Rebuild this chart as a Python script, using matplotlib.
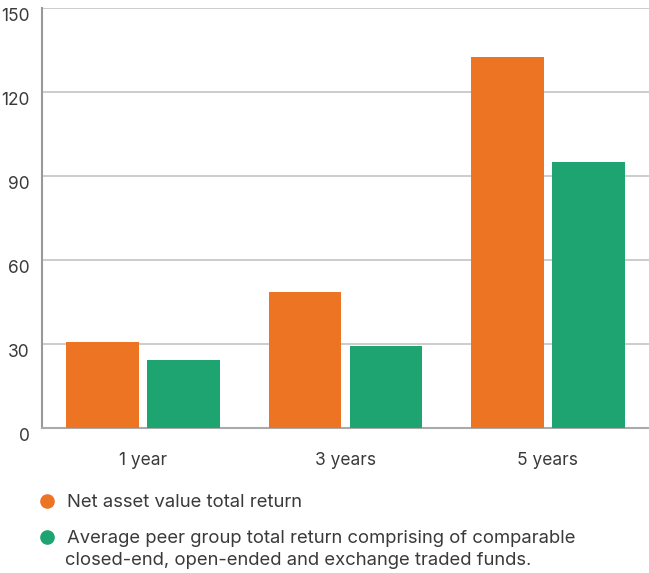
import numpy as np
import matplotlib.pyplot as plt
from matplotlib.lines import Line2D

plt.rcParams['font.family'] = ['Inter', 'DejaVu Sans']

periods = ['1 year', '3 years', '5 years']
nav_return = [30.7, 48.6, 132.5]
peer_return = [24.3, 29.3, 95.0]
yticks = [0, 30, 60, 90, 120, 150]
legend_labels = ['Net asset value total return',
                 'Average peer group total return comprising of comparable\nclosed-end, open-ended and exchange traded funds.']

orange = '#ec7423'
green = '#1ea470'
text_col = '#3a3a3a'

W, H = 649, 573
fig = plt.figure(figsize=(W / 100, H / 100), dpi=100)
ax = fig.add_axes([42 / W, 1 - 428 / H, 1 - 42 / W, 420 / H])

x = np.arange(len(periods))
ax.bar(x - 0.2, nav_return, width=0.36, color=orange, zorder=3)
ax.bar(x + 0.2, peer_return, width=0.36, color=green, zorder=3)

ax.set_xlim(-0.5, 2.5)
ax.set_ylim(0, 150)
ax.set_yticks(yticks)
ax.set_xticks(x)
ax.set_xticklabels(periods)
ax.grid(axis='y', color='#c4c4c4', linewidth=1.2, zorder=0)
ax.tick_params(axis='both', length=0, labelsize=12.5, colors=text_col)
ax.tick_params(axis='x', pad=17)
ax.tick_params(axis='y', pad=9)
for lab in ax.get_yticklabels():
    lab.set_va('top')

for s in ['top', 'right']:
    ax.spines[s].set_visible(False)
ax.spines['left'].set_color('#999999')
ax.spines['left'].set_linewidth(1.5)
ax.spines['bottom'].set_color('#aaaaaa')
ax.spines['bottom'].set_linewidth(1.5)

# legend drawn by hand below the axes
dot_y = [501, 537]
for col, lab, yd in zip([orange, green], legend_labels, dot_y):
    fig.add_artist(Line2D([47 / W], [1 - yd / H], marker='o', markersize=9.5, color=col,
                          linestyle='none', transform=fig.transFigure))
    for i, line in enumerate(lab.split('\n')):
        xl = 67 if i == 0 else 65
        yb = yd + 6 + 22 * i
        fig.text(xl / W, 1 - yb / H, line, fontsize=13.3, color=text_col, va='baseline')

fig.savefig('out.png', dpi=100)
